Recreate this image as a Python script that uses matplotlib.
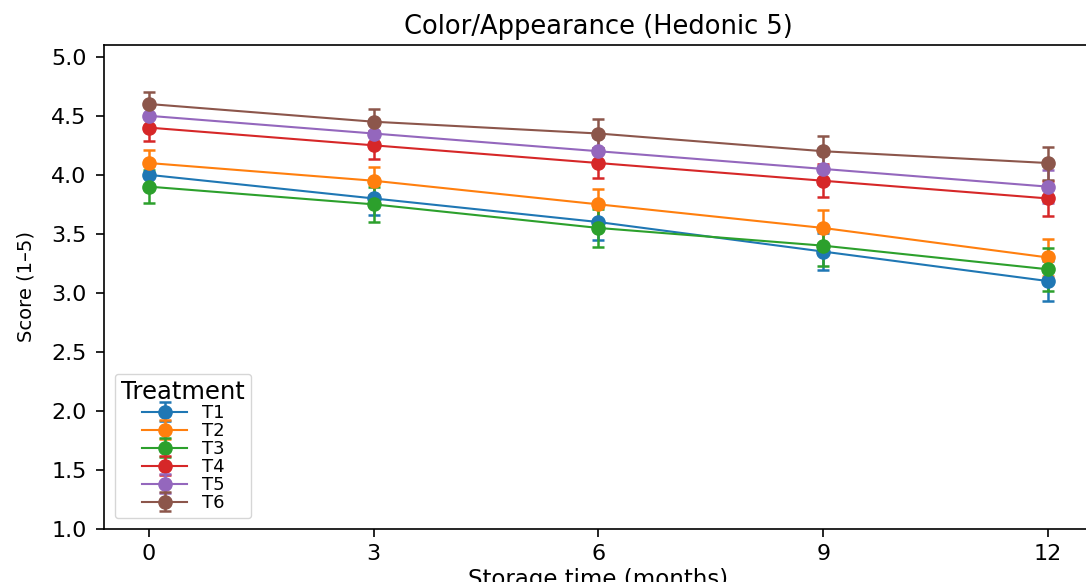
import numpy as np
import matplotlib
matplotlib.use('Agg')
import matplotlib.pyplot as plt

months = [0, 3, 6, 9, 12]
treatments = ['T1', 'T2', 'T3', 'T4', 'T5', 'T6']

# mean hedonic scores per treatment
t1 = [4.00, 3.80, 3.60, 3.35, 3.10]
t2 = [4.10, 3.95, 3.75, 3.55, 3.30]
t3 = [3.90, 3.75, 3.55, 3.40, 3.20]
t4 = [4.40, 4.25, 4.10, 3.95, 3.80]
t5 = [4.50, 4.35, 4.20, 4.05, 3.90]
t6 = [4.60, 4.45, 4.35, 4.20, 4.10]

# standard deviations
t1_sd = [0.10, 0.14, 0.15, 0.16, 0.17]
t2_sd = [0.11, 0.12, 0.13, 0.15, 0.16]
t3_sd = [0.14, 0.15, 0.16, 0.17, 0.18]
t4_sd = [0.11, 0.12, 0.13, 0.14, 0.15]
t5_sd = [0.10, 0.11, 0.12, 0.13, 0.14]
t6_sd = [0.10, 0.11, 0.12, 0.13, 0.14]

means = [t1, t2, t3, t4, t5, t6]
sds = [t1_sd, t2_sd, t3_sd, t4_sd, t5_sd, t6_sd]

fig = plt.figure(figsize=(10.86, 5.82), dpi=100)
ax = fig.add_axes([0.0958, 0.0911, 0.9106, 0.8316])

for name, m, s in zip(treatments, means, sds):
    ax.errorbar(months, m, yerr=s, marker='o', markersize=9.5, linewidth=1.5,
                elinewidth=1.8, capsize=4, capthick=1.8, label=name)

ax.set_xlim(-0.6, 12.6)
ax.set_ylim(1.0, 5.1)
ax.set_xticks(months)
ax.set_yticks(np.arange(1.0, 5.01, 0.5))
ax.tick_params(labelsize=16, length=5.5, width=1.2)
ax.tick_params(axis='x', pad=5)
ax.tick_params(axis='y', pad=7)
for sp in ax.spines.values():
    sp.set_linewidth(1.2)

ax.set_title('Color/Appearance (Hedonic 5)', fontsize=18.5, pad=8)
ax.set_xlabel('Storage time (months)', fontsize=16.5, labelpad=3)
ax.set_ylabel('Score (1–5)', fontsize=14, labelpad=11)

ax.legend(title='Treatment', loc='lower left', fontsize=13,
          title_fontsize=17.5, handlelength=2.5, labelspacing=0.0,
          borderaxespad=0.6, borderpad=0.35)

fig.savefig('out.png', dpi=100)
